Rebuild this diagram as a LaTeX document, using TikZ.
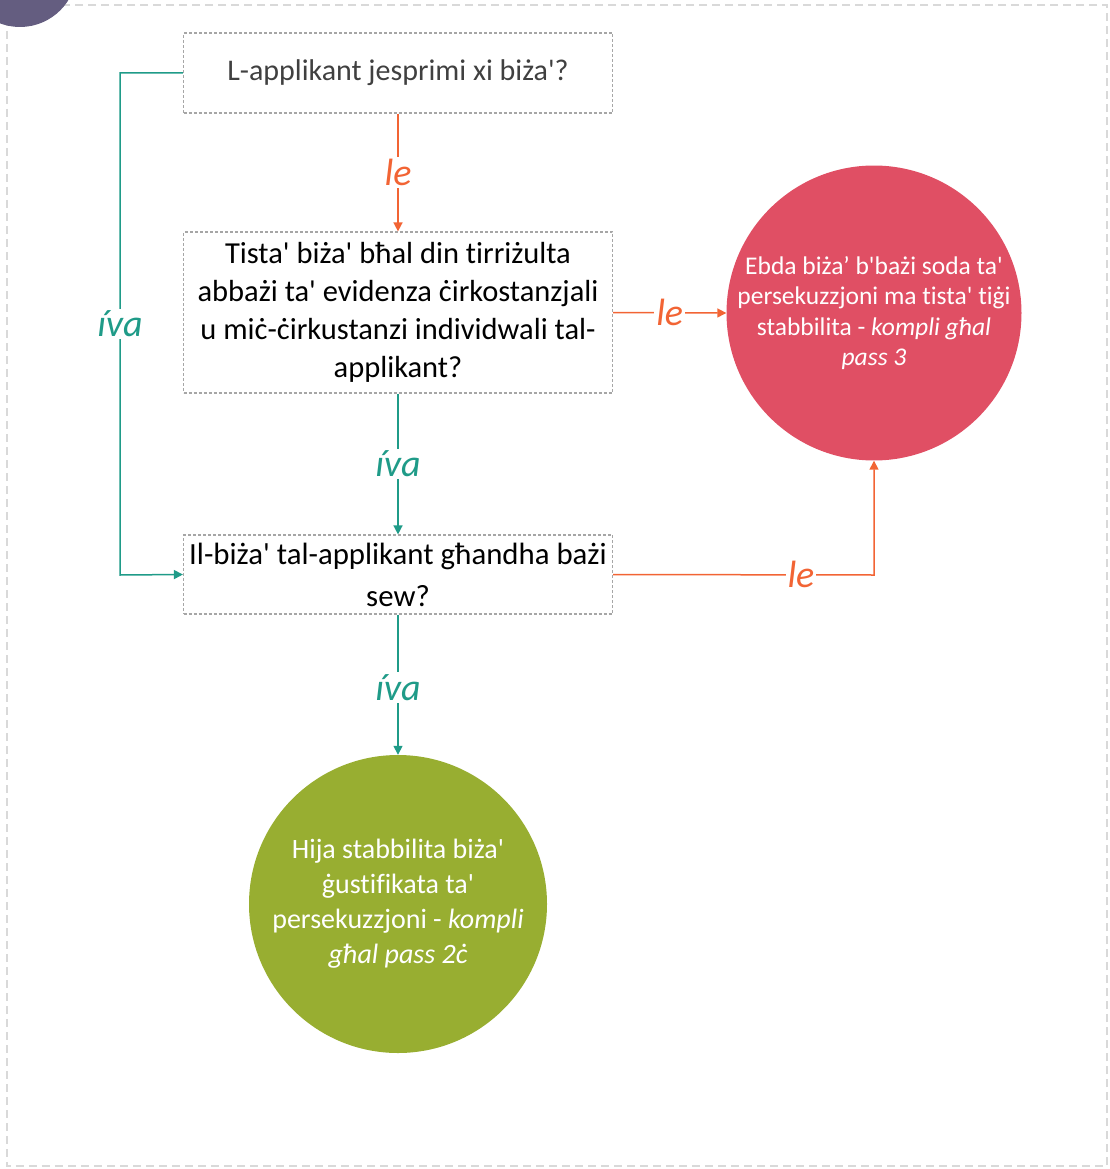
\documentclass[tikz,border=0pt]{standalone}
\usepackage{fontspec}
\setmainfont{Carlito}[Ligatures={TeXReset,NoCommon}]
\usetikzlibrary{arrows.meta}
\definecolor{yescol}{HTML}{1F9B88}
\definecolor{nocol}{HTML}{F26434}
\definecolor{stopred}{HTML}{E04F64}
\definecolor{gogreen}{HTML}{98AE31}
\definecolor{cornerpurple}{HTML}{645D80}
\definecolor{boxline}{HTML}{A6A6A6}
\definecolor{frameline}{HTML}{D9D9D9}
\tikzset{
  question/.style={draw=boxline, line width=1.2pt, dash pattern=on 3pt off 2pt,
    minimum width=429pt, align=center, inner sep=0pt},
  outcome/.style={circle, inner sep=0pt, text=white, align=center},
  yesline/.style={draw=yescol, line width=1.5pt, -{Triangle[length=9pt,width=9pt]}},
  noline/.style={draw=nocol, line width=1.5pt, -{Triangle[length=9pt,width=9pt]}},
  yeslabel/.style={fill=white, text=yescol, inner sep=2pt, font=\fontsize{38}{38}\selectfont\itshape},
  nolabel/.style={fill=white, text=nocol, inner sep=2pt, font=\fontsize{38}{38}\selectfont\itshape},
}
\begin{document}
\begin{tikzpicture}[x=1pt,y=-1pt]
  \useasboundingbox (0,0) rectangle (1110,1169);
  % outer frame and corner badge
  \draw[frameline, line width=1.5pt, dash pattern=on 8pt off 5pt] (7,5) rectangle (1107,1166);
  \fill[cornerpurple] (20,-30) circle (57);

  % questions
  \node[question, minimum height=80pt, text=black!75, font=\fontsize{30}{38}\selectfont] (q1) at (398,73) {L-applikant jesprimi xi biża'?};
  \node[question, minimum height=161pt, font=\fontsize{30.5}{38}\selectfont] (q2) at (398,312.5)
    {Tista' biża' bħal din tirriżulta\\abbażi ta' evidenza ċirkostanzjali\\u miċ-ċirkustanzi individwali tal-\\applikant?};
  \node[question, minimum height=79pt, font=\fontsize{30.8}{42}\selectfont] (q3) at (398,574.5) {Il-biża' tal-applikant għandha bażi\\sew?};

  % outcomes
  \node[outcome, fill=stopred, minimum size=294pt, font=\fontsize{25.5}{30.5}\selectfont] (stop) at (874,313)
    {Ebda biża’ b'bażi soda ta'\\persekuzzjoni ma tista' tiġi\\stabbilita - \textit{kompli għal}\\\textit{pass 3}};
  \node[outcome, fill=gogreen, minimum size=298pt, font=\fontsize{28}{35}\selectfont] (go) at (398,904)
    {Hija stabbilita biża'\\ġustifikata ta'\\persekuzzjoni - \textit{kompli}\\\textit{għal pass 2ċ}};

  % connectors
  \draw[noline] (q1.south) -- node[nolabel]{le} (q2.north);
  \draw[noline] (q2.east) -- node[nolabel, pos=0.5]{le} (stop.west);
  \draw[yesline] (q2.south) -- node[yeslabel, pos=0.5]{íva} (q3.north);
  \draw[yesline] (q1.west) -- (120,73) -- node[yeslabel, pos=0.5]{íva} (120,575) -- (q3.west);
  \draw[noline] (q3.east) -- node[nolabel, pos=0.72]{le} (874,575) -- (stop.south);
  \draw[yesline] (q3.south) -- node[yeslabel, pos=0.52]{íva} (go.north);
\end{tikzpicture}
\end{document}
